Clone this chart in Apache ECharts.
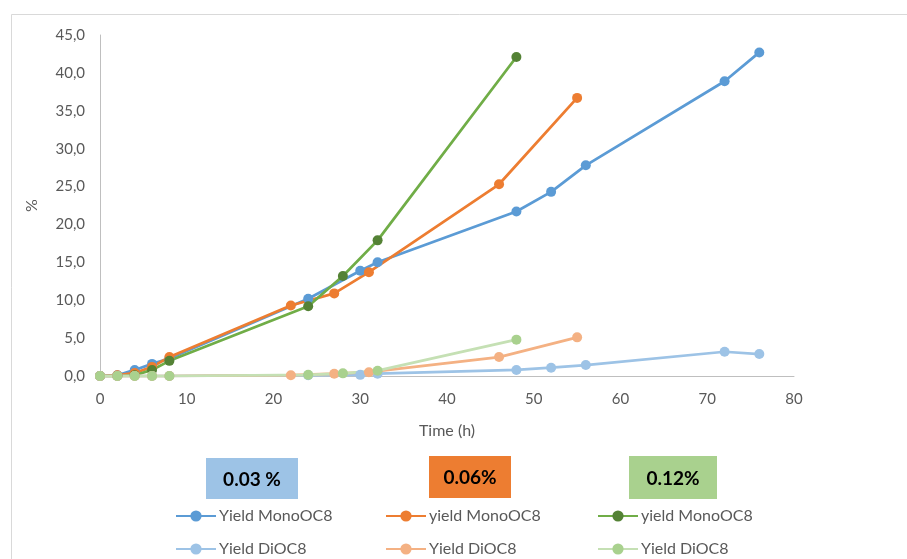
<!DOCTYPE html>
<html>
<head>
<meta charset="utf-8">
<script src="https://cdn.jsdelivr.net/npm/echarts@6/dist/echarts.min.js"></script>
<style>html,body{margin:0;padding:0;background:#fff}#c{width:907px;height:559px}</style>
</head>
<body>
<div id="c"></div>
<script>
// 0.03 % catalyst
const t003 = [0, 2, 4, 6, 8, 24, 30, 32, 48, 52, 56, 72, 76];
const mono003 = [0, 0.1, 0.8, 1.6, 2.3, 10.2, 13.9, 15.0, 21.7, 24.3, 27.8, 38.9, 42.7];
const di003 = [0, 0, 0, 0, 0, 0.1, 0.15, 0.3, 0.8, 1.1, 1.45, 3.2, 2.9];
// 0.06 %
const t006 = [0, 2, 4, 6, 8, 22, 27, 31, 46, 55];
const mono006 = [0, 0.1, 0.4, 1.2, 2.5, 9.3, 10.9, 13.7, 25.3, 36.7];
const di006 = [0, 0, 0, 0, 0, 0.1, 0.3, 0.5, 2.5, 5.1];
// 0.12 %
const t012 = [0, 2, 4, 6, 8, 24, 28, 32, 48];
const mono012 = [0, 0, 0.1, 0.8, 2.0, 9.2, 13.2, 17.9, 42.1];
const di012 = [0, 0, 0, 0, 0, 0.15, 0.35, 0.7, 4.8];

const seriesNames = ['Yield MonoOC8', 'yield MonoOC8', 'yield MonoOC8 ', 'Yield DiOC8', 'Yield DiOC8 ', 'Yield DiOC8  '];
const boxLabels = ['0.03 %', '0.06%', '0.12%'];
const xTicks = {min: 0, max: 80, interval: 10};
const yTicks = {min: 0, max: 45, interval: 5};

const FONT = 'Lato';
function pairs(t, v) { return t.map((x, i) => [x, v[i]]); }
function mk(name, t, v, lineColor, markColor) {
  return {
    name: name, type: 'line', data: pairs(t, v),
    symbol: 'circle', symbolSize: 10,
    lineStyle: {color: lineColor, width: 2.75},
    itemStyle: {color: markColor, borderWidth: 0},
    emphasis: {disabled: true}, animation: false
  };
}
const series = [
  mk(seriesNames[0], t003, mono003, '#5B9BD5', '#5B9BD5'),
  mk(seriesNames[1], t006, mono006, '#ED7D31', '#ED7D31'),
  mk(seriesNames[2], t012, mono012, '#70AD47', '#548235'),
  mk(seriesNames[3], t003, di003, '#9DC3E6', '#9DC3E6'),
  mk(seriesNames[4], t006, di006, '#F4B183', '#F4B183'),
  mk(seriesNames[5], t012, di012, '#C5E0B4', '#A9D18E')
];

function legend(name, left, top) {
  return {
    data: [name], left: left, top: top, padding: 0,
    itemWidth: 40, itemHeight: 14,
    selectedMode: false,
    textStyle: {fontFamily: FONT, fontSize: 16, color: '#595959', padding: [0, 0, 0, -2]}
  };
}
function box(x, y, w, h, fill, text) {
  return {
    type: 'group', left: x, top: y,
    children: [
      {type: 'rect', shape: {x: 0, y: 0, width: w, height: h}, style: {fill: fill}},
      {type: 'text', x: w / 2, y: h / 2 + 1, style: {text: text, fill: '#000', font: 'bold 19px ' + FONT, align: 'center', verticalAlign: 'middle'}}
    ]
  };
}

const chart = echarts.init(document.getElementById('c'), null, {renderer: 'canvas'});
chart.setOption({
  backgroundColor: '#fff',
  animation: false,
  grid: {left: 100, right: 113, top: 35, bottom: 183, containLabel: false},
  xAxis: {
    type: 'value', min: xTicks.min, max: xTicks.max, interval: xTicks.interval,
    name: 'Time (h)', nameLocation: 'middle', nameGap: 47,
    nameTextStyle: {fontFamily: FONT, fontSize: 16, color: '#595959'},
    axisLine: {show: true, lineStyle: {color: '#BFBFBF', width: 1}},
    axisTick: {show: false}, splitLine: {show: false},
    axisLabel: {fontFamily: FONT, fontSize: 15, color: '#595959', margin: 16}
  },
  yAxis: {
    type: 'value', min: yTicks.min, max: yTicks.max, interval: yTicks.interval,
    name: '%', nameLocation: 'middle', nameGap: 60, nameRotate: 90,
    nameTextStyle: {fontFamily: FONT, fontSize: 16, color: '#595959'},
    axisLine: {show: true, lineStyle: {color: '#BFBFBF', width: 1}},
    axisTick: {show: false}, splitLine: {show: false},
    axisLabel: {fontFamily: FONT, fontSize: 15, color: '#595959', margin: 15,
      formatter: v => v.toFixed(1).replace('.', ',')}
  },
  legend: [
    legend(seriesNames[0], 175, 508),
    legend(seriesNames[3], 175, 541),
    legend(seriesNames[1], 385, 508),
    legend(seriesNames[4], 385, 541),
    legend(seriesNames[2], 597, 508),
    legend(seriesNames[5], 597, 541)
  ],
  graphic: [
    {type: 'rect', left: 9, top: 12, shape: {x: 0, y: 0, width: 900, height: 560}, style: {fill: 'none', stroke: '#D9D9D9', lineWidth: 1}, silent: true},
    box(206, 458, 92, 41, '#9DC3E6', boxLabels[0]),
    box(429, 456, 82, 42, '#ED7D31', boxLabels[1]),
    box(629, 456, 88, 43, '#A9D18E', boxLabels[2])
  ],
  series: series
});
</script>
</body>
</html>
